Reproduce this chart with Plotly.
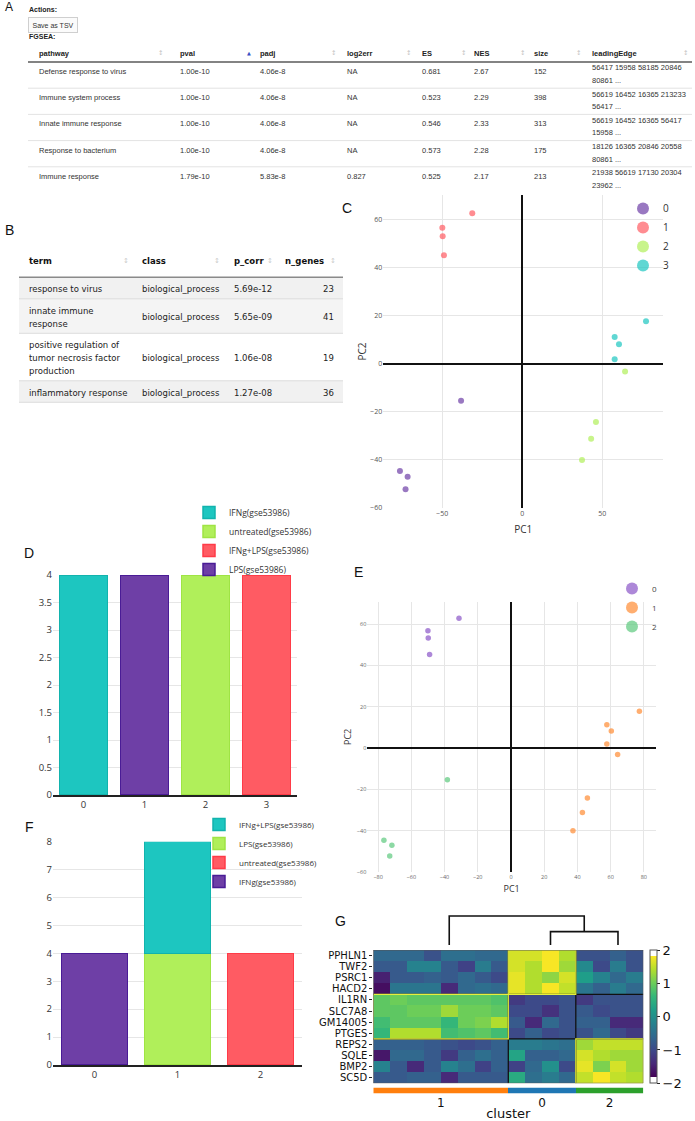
import plotly.graph_objects as go

W, H = 695, 1121


def fx(px):
    return px / W


def fy(py):
    return 1 - py / H


# ============================================================ DATA
# ---- A : FGSEA table
fgsea_header = ["pathway", "pval", "padj", "log2err", "ES", "NES", "size", "leadingEdge"]
fgsea_sorted = "pval"
fgsea_pathway = ["Defense response to virus", "Immune system process", "Innate immune response",
                 "Response to bacterium", "Immune response"]
fgsea_pval = ["1.00e-10", "1.00e-10", "1.00e-10", "1.00e-10", "1.79e-10"]
fgsea_padj = ["4.06e-8", "4.06e-8", "4.06e-8", "4.06e-8", "5.83e-8"]
fgsea_log2err = ["NA", "NA", "NA", "NA", "0.827"]
fgsea_es = ["0.681", "0.523", "0.546", "0.573", "0.525"]
fgsea_nes = ["2.67", "2.29", "2.33", "2.28", "2.17"]
fgsea_size = ["152", "398", "313", "175", "213"]
fgsea_leading_edge = ["56417 15958 58185 20846<br>80861 ...",
                      "56619 16452 16365 213233<br>56417 ...",
                      "56619 16452 16365 56417<br>15958 ...",
                      "18126 16365 20846 20558<br>80861 ...",
                      "21938 56619 17130 20304<br>23962 ..."]

# ---- B : GO enrichment table
go_header = ["term", "class", "p_corr", "n_genes"]
go_term = ["response to virus", "innate immune<br>response",
           "positive regulation of<br>tumor necrosis factor<br>production", "inflammatory response"]
go_class = ["biological_process", "biological_process", "biological_process", "biological_process"]
go_p_corr = ["5.69e-12", "5.65e-09", "1.06e-08", "1.27e-08"]
go_n_genes = [23, 41, 19, 36]

# ---- C / E : PCA coordinates of the 16 samples
pc1 = [-38.3, -76.5, -71.7, -73.0, -31.3, -50.0, -49.8, -49.0,
       46.0, 43.0, 37.3, 64.2, 77.3, 57.7, 60.4, 57.7]
pc2 = [-15.3, -44.6, -47.0, -52.2, 62.8, 56.8, 53.2, 45.3,
       -24.2, -31.2, -40.0, -3.1, 17.8, 11.2, 8.2, 2.0]
cluster_c = [0, 0, 0, 0, 1, 1, 1, 1, 2, 2, 2, 2, 3, 3, 3, 3]
cluster_e = [2, 2, 2, 2, 0, 0, 0, 0, 1, 1, 1, 1, 1, 1, 1, 1]

# ---- D : samples per cluster, coloured by condition
d_conditions = ["IFNg(gse53986)", "untreated(gse53986)", "IFNg+LPS(gse53986)", "LPS(gse53986)"]
d_clusters = [0, 2, 3, 1]
d_counts = [4, 4, 4, 4]

# ---- F : stacked samples per cluster (trace/stack order) + legend order
f_conditions = ["IFNg(gse53986)", "untreated(gse53986)", "LPS(gse53986)", "IFNg+LPS(gse53986)"]
f_clusters = [0, 2, 1, 1]
f_counts = [4, 4, 4, 4]
f_legend_order = ["IFNg+LPS(gse53986)", "LPS(gse53986)", "untreated(gse53986)", "IFNg(gse53986)"]

# ---- G : marker gene heatmap
genes = ["PPHLN1", "TWF2", "PSRC1", "HACD2", "IL1RN", "SLC7A8", "GM14005", "PTGES",
         "REPS2", "SQLE", "BMP2", "SC5D"]
gene_group_sizes = [4, 4, 4]
gene_group_cluster = [0, 1, 2]
cluster_order = [1, 0, 2]
cluster_sizes = [8, 4, 4]
heat_values = [
    [-0.6, -0.6, -0.6, -0.9, -0.5, -0.5, -0.6, -0.6, 1.6, 1.6, 1.8, 1.4, -0.9, -0.9, -0.7, -0.9],
    [-0.8, -0.8, -0.2, -0.2, -0.8, -1.1, -0.3, -0.8, 1.6, 1.4, 1.8, 1.3, -0.1, -1.0, -0.3, -0.9],
    [-1.5, -0.8, -0.8, -0.7, -0.8, -0.6, -0.8, -1.0, 1.7, 1.4, 1.2, 1.6, 0.2, -0.2, -0.6, -0.3],
    [-1.7, -0.4, -0.4, -0.4, -1.4, -0.6, -0.5, -0.6, 1.7, 1.4, 1.8, 1.5, -0.4, -0.7, -0.3, -0.6],
    [0.9, 1.0, 0.9, 0.9, 0.9, 0.9, 0.9, 0.8, -1.2, -1.0, -1.0, -0.9, -1.2, -0.9, -0.9, -0.9],
    [0.9, 0.9, 1.0, 1.0, 1.3, 1.0, 1.0, 0.9, -1.0, -1.0, -1.3, -0.9, -0.8, -1.0, -0.9, -0.9],
    [0.7, 0.9, 0.9, 0.9, 0.6, 1.0, 1.1, 1.4, -0.8, -1.4, -0.6, -0.9, -0.7, -0.7, -1.4, -1.4],
    [0.6, 1.4, 1.4, 1.4, 0.7, 0.8, 0.9, 0.7, -1.0, -0.7, -1.0, -0.9, -0.9, -0.6, -1.0, -1.2],
    [-0.7, -0.7, -0.7, -0.8, -0.9, -1.0, -0.9, -0.7, -0.3, -0.3, -0.4, -0.5, 1.3, 1.5, 1.5, 1.5],
    [-1.6, -0.6, -0.6, -0.8, -1.2, -0.7, -0.5, -0.7, 0.3, -0.7, -0.7, -0.6, 1.6, 1.4, 1.3, 1.3],
    [-0.2, -0.8, -1.4, -0.8, -0.2, -0.5, -1.1, -0.7, -1.1, -0.6, 0.0, -1.0, 1.7, 1.1, 1.6, 1.3],
    [-0.8, -0.8, -0.7, -0.7, -1.4, -0.8, -0.8, -0.8, 0.4, -0.5, -0.3, -0.6, 1.5, 1.8, 1.5, 1.4],
]
# dendrogram: clusters 0 and 2 merge first, then join cluster 1
dendro_merge_heights = [0.46, 1.0]

# ============================================================ STYLES
c_colors = ["#6e3fa6", "#ff5b63", "#b0ef5a", "#1dc6c0"]
e_colors = ["#8a56c8", "#ff8c33", "#5cc97e"]
bar_fill = ["#1dc6c0", "#b0ef5a", "#ff5b63", "#6e3fa6"]
bar_line = ["#12b3ad", "#9fe444", "#ff3b48", "#4a1c96"]
strip_colors = {0: "#1f77b4", 1: "#ff7f0e", 2: "#2ca02c"}
NARROW = "Liberation Sans Narrow, Arial Narrow, Liberation Sans, sans-serif"
VERD = "DejaVu Sans, Verdana, sans-serif"
GRID = "#e6e6e6"

fig = go.Figure()

# ---------------------------------------------------------------- C scatter
for k in sorted(set(cluster_c)):
    idx = [i for i, c in enumerate(cluster_c) if c == k]
    fig.add_trace(go.Scatter(
        x=[pc1[i] for i in idx], y=[pc2[i] for i in idx], mode="markers", name=str(k),
        marker=dict(size=6, color=c_colors[k], opacity=0.7, line=dict(width=0)),
        xaxis="x", yaxis="y", legend="legend"))

# ---------------------------------------------------------------- E scatter
for k in sorted(set(cluster_e)):
    idx = [i for i, c in enumerate(cluster_e) if c == k]
    fig.add_trace(go.Scatter(
        x=[pc1[i] for i in idx], y=[pc2[i] for i in idx], mode="markers", name=str(k),
        marker=dict(size=5.5, color=e_colors[k], opacity=0.7, line=dict(width=0)),
        xaxis="x2", yaxis="y2", legend="legend3"))

# ---------------------------------------------------------------- D bars
for i, cond in enumerate(d_conditions):
    fig.add_trace(go.Bar(
        x=[d_clusters[i]], y=[d_counts[i]], name=cond, legendrank=i + 1,
        marker=dict(color=bar_fill[i], line=dict(color=bar_line[i], width=1.5)),
        xaxis="x3", yaxis="y3", legend="legend2"))

# ---------------------------------------------------------------- F stacked bars
for i, cond in enumerate(f_conditions):
    li = f_legend_order.index(cond)
    fig.add_trace(go.Bar(
        x=[f_clusters[i]], y=[f_counts[i]], name=cond, legendrank=li + 1,
        marker=dict(color=bar_fill[li], line=dict(color=bar_line[li], width=1.5)),
        xaxis="x4", yaxis="y4", legend="legend4"))

# ---------------------------------------------------------------- G heatmap
viridis = ["#440154", "#482878", "#3e4989", "#31688e", "#26828e",
           "#1f9e89", "#35b779", "#6ece58", "#b5de2b", "#fde725"]
cap = 0.042
cscale = [[0, "white"], [cap, "white"]]
cscale += [[cap + (1 - 2 * cap) * i / (len(viridis) - 1), c] for i, c in enumerate(viridis)]
cscale += [[1 - cap, "white"], [1, "white"]]

n_cols = len(heat_values[0])
fig.add_trace(go.Heatmap(
    z=heat_values, x=list(range(n_cols)), y=list(range(len(genes))),
    colorscale=cscale, zmin=-2, zmax=2, xaxis="x5", yaxis="y5",
    colorbar=dict(x=fx(650), xanchor="left", y=fy(1016.7), yanchor="middle",
                  len=133.3 / H, lenmode="fraction", thickness=7, xpad=0, ypad=0,
                  outlinewidth=1, outlinecolor="#555",
                  tickvals=[-2, -1, 0, 1, 2], ticktext=["\u22122", "\u22121", "0", "1", "2"],
                  ticks="outside", ticklen=3, tickcolor="#222",
                  tickfont=dict(size=13, family=VERD, color="#111")),
    hoverinfo="skip"))

# column layout of the heatmap (cluster blocks)
block_start = []
acc = 0
for s in cluster_sizes:
    block_start.append(acc)
    acc += s
col_clusters = []
for cl, s in zip(cluster_order, cluster_sizes):
    col_clusters += [cl] * s
block_center = [st + s / 2 - 0.5 for st, s in zip(block_start, cluster_sizes)]
leaf_x = {cl: st + s / 2 for cl, st, s in zip(cluster_order, block_start, cluster_sizes)}

# dendrogram
h1, h2 = dendro_merge_heights
inner_mid = (leaf_x[0] + leaf_x[2]) / 2
dx = [leaf_x[1], leaf_x[1], inner_mid, inner_mid, None, leaf_x[0], leaf_x[0], leaf_x[2], leaf_x[2]]
dy = [0, h2, h2, h1, None, 0, h1, h1, 0]
fig.add_trace(go.Scatter(x=dx, y=dy, mode="lines", line=dict(color="#111", width=1.6),
                         showlegend=False, hoverinfo="skip", xaxis="x6", yaxis="y6"))

# cluster colour strip
sc = [[0, strip_colors[0]], [1 / 3, strip_colors[0]], [1 / 3, strip_colors[1]],
      [2 / 3, strip_colors[1]], [2 / 3, strip_colors[2]], [1, strip_colors[2]]]
fig.add_trace(go.Heatmap(z=[col_clusters], x=list(range(n_cols)), y=[0], colorscale=sc,
                         zmin=-0.5, zmax=2.5, showscale=False, hoverinfo="skip",
                         xaxis="x7", yaxis="y7"))

# ============================================================ SHAPES / ANNOTATIONS
shapes = []
ann = []


def hline(y, x0, x1, color, width):
    shapes.append(dict(type="line", xref="paper", yref="paper", x0=fx(x0), x1=fx(x1),
                       y0=fy(y), y1=fy(y), line=dict(color=color, width=width)))


def text(x, y, t, size, family, color="#333", anchor="left", bold=False):
    ann.append(dict(x=fx(x), y=fy(y), xref="paper", yref="paper", showarrow=False,
                    text=("<b>%s</b>" % t) if bold else t, xanchor=anchor, yanchor="middle",
                    font=dict(size=size, family=family, color=color)))


# ---- panel A
text(3, 7, "A", 12, "Liberation Sans, Arial", "#111")
text(27, 9, "Actions:", 7, NARROW, "#222", bold=True)
ann.append(dict(x=fx(53), y=fy(25), xref="paper", yref="paper", showarrow=False,
                text="Save as TSV", xanchor="center", yanchor="middle",
                font=dict(size=7, family=NARROW, color="#333"),
                bordercolor="#cfcfcf", borderwidth=1, borderpad=3.5, bgcolor="#fbfbfb"))
text(27, 37, "FGSEA:", 7, NARROW, "#222", bold=True)

A_TEXT_X = [37, 178, 258, 345, 420, 472, 532, 590]
A_ICON_X = [160, 249, 333, 408, 463, 522, 578, 685]
A_ROW_TOP, A_ROW_H = 62, 26.2
fgsea_cols = [fgsea_pathway, fgsea_pval, fgsea_padj, fgsea_log2err, fgsea_es,
              fgsea_nes, fgsea_size, fgsea_leading_edge]
for c, name in enumerate(fgsea_header):
    text(A_TEXT_X[c], 53, name, 7.5, NARROW, "#222", bold=True)
    if name == fgsea_sorted:
        text(A_ICON_X[c], 53, "\u25b2", 5, VERD, "#3b4fc4", anchor="center")
    else:
        text(A_ICON_X[c], 53, "\u2195", 6.5, VERD, "#c4c4c4", anchor="center")
    for r, val in enumerate(fgsea_cols[c]):
        top = A_ROW_TOP + r * A_ROW_H
        lines = val.split("<br>")
        if len(lines) == 1:
            text(A_TEXT_X[c], top + 9.5, lines[0], 7.5, NARROW, "#333")
        else:
            for k, ln in enumerate(lines):
                text(A_TEXT_X[c], top + 6 + 12.5 * k, ln, 7.5, NARROW, "#333")
hline(A_ROW_TOP, 28, 692, "#5a5a5a", 1.6)
for r in range(1, len(fgsea_pathway)):
    hline(A_ROW_TOP + r * A_ROW_H, 28, 692, "#e3e3e3", 1)

# ---- panel B
text(3, 230, "B", 14, "Liberation Sans, Arial", "#111")
B_TEXT_X = [27, 140, 232, 336]
B_ALIGN = ["left", "left", "left", "right"]
B_ICON_X = [126, 217, 270, 333]
B_LEFT, B_RIGHT = 19, 343
B_HEAD_Y, B_ROW_TOP, B_LINE_H = 260.5, 277.3, 13
B_FILL = ["#f1f1f1", "#f4f4f4", "#ffffff", "#f1f1f1"]
go_cols = [go_term, go_class, go_p_corr, [str(v) for v in go_n_genes]]
row_lines = [max(len(str(col[r]).split("<br>")) for col in go_cols) for r in range(len(go_term))]
tops = []
y = B_ROW_TOP
for n in row_lines:
    tops.append((y, y + 8.5 + B_LINE_H * n))
    y += 8.5 + B_LINE_H * n
for r, (t0, t1) in enumerate(tops):
    shapes.append(dict(type="rect", xref="paper", yref="paper", x0=fx(B_LEFT), x1=fx(B_RIGHT),
                       y0=fy(t1), y1=fy(t0), fillcolor=B_FILL[r], line=dict(width=0), layer="below"))
    hline(t1, B_LEFT, B_RIGHT, "#dcdcdc", 1)
hline(B_ROW_TOP, B_LEFT, B_RIGHT, "#8a8a8a", 1.6)
for c, name in enumerate(go_header):
    text(B_TEXT_X[c] if B_ALIGN[c] == "left" else 283, B_HEAD_Y, name, 8.5, VERD, "#111", bold=True)
    text(B_ICON_X[c], B_HEAD_Y, "\u2195", 7, VERD, "#cccccc", anchor="center")
    for r, val in enumerate(go_cols[c]):
        t0, t1 = tops[r]
        mid = (t0 + t1) / 2 + 1
        lines = str(val).split("<br>")
        for k, ln in enumerate(lines):
            text(B_TEXT_X[c], mid + B_LINE_H * (k - (len(lines) - 1) / 2), ln, 8.5, VERD, "#222",
                 anchor=B_ALIGN[c])

# ---- panel letters for plots
text(340, 208, "C", 14, "Liberation Sans, Arial", "#111")
text(22, 553, "D", 14, "Liberation Sans, Arial", "#111")
text(352, 572, "E", 14, "Liberation Sans, Arial", "#111")
text(23, 827, "F", 14, "Liberation Sans, Arial", "#111")
text(333, 921, "G", 14, "Liberation Sans, Arial", "#111")

# ---- heatmap block lines
gstart = []
acc = 0
for s in gene_group_sizes:
    gstart.append(acc)
    acc += s
for st in block_start[1:]:
    shapes.append(dict(type="line", xref="x5", yref="y5", x0=st - 0.5, x1=st - 0.5,
                       y0=-0.5, y1=len(genes) - 0.5, line=dict(color="#111", width=1.3)))
for st in gstart[1:]:
    shapes.append(dict(type="line", xref="x5", yref="y5", x0=-0.5, x1=n_cols - 0.5,
                       y0=st - 0.5, y1=st - 0.5, line=dict(color="#111", width=1.3)))
for g, cl in enumerate(gene_group_cluster):
    b = cluster_order.index(cl)
    shapes.append(dict(type="rect", xref="x5", yref="y5",
                       x0=block_start[b] - 0.5, x1=block_start[b] + cluster_sizes[b] - 0.5,
                       y0=gstart[g] - 0.5, y1=gstart[g] + gene_group_sizes[g] - 0.5,
                       line=dict(color="#e6f03c", width=1.2)))
shapes.append(dict(type="rect", xref="x5", yref="y5", x0=-0.5, x1=n_cols - 0.5,
                   y0=-0.5, y1=len(genes) - 0.5, line=dict(color="#555", width=1)))

# ============================================================ LAYOUT
tick_small = dict(size=7, color="#555")
heat_x_dom = [fx(373.3), fx(643.3)]
fig.update_layout(
    width=W, height=H, margin=dict(l=0, r=0, t=0, b=0), template="none",
    paper_bgcolor="white", plot_bgcolor="white", barmode="stack", bargap=0.21,
    font=dict(family="Open Sans, sans-serif", color="#444"),
    shapes=shapes, annotations=ann,
    # C
    xaxis=dict(domain=[fx(383.3), fx(663.3)], range=[-86.9, 88.1], tick0=0, dtick=50, anchor="y",
               showgrid=True, gridcolor=GRID, zeroline=True, zerolinecolor="#111", zerolinewidth=2,
               showline=False, ticks="", tickfont=tick_small,
               title=dict(text="PC1", font=dict(size=10, color="#333"), standoff=8)),
    yaxis=dict(domain=[fy(508), fy(195)], range=[-60, 70.4], tick0=0, dtick=20, anchor="x",
               showgrid=True, gridcolor=GRID, zeroline=True, zerolinecolor="#111", zerolinewidth=2,
               showline=False, ticks="", tickfont=tick_small,
               title=dict(text="PC2", font=dict(size=10, color="#333"), standoff=1)),
    # E
    xaxis2=dict(domain=[fx(367.3), fx(656)], range=[-86.5, 87.3], tick0=0, dtick=20, anchor="y2",
                showgrid=True, gridcolor=GRID, zeroline=True, zerolinecolor="#111", zerolinewidth=2,
                ticks="", tickfont=dict(size=5.5, color="#666"),
                title=dict(text="PC1", font=dict(size=9, color="#333"), standoff=6)),
    yaxis2=dict(domain=[fy(872), fy(601.7)], range=[-60, 70.8], tick0=0, dtick=20, anchor="x2",
                showgrid=True, gridcolor=GRID, zeroline=True, zerolinecolor="#111", zerolinewidth=2,
                ticks="", tickfont=dict(size=5.5, color="#666"),
                title=dict(text="PC2", font=dict(size=9, color="#333"), standoff=3)),
    # D
    xaxis3=dict(domain=[fx(53), fx(297)], range=[-0.5, 3.5], tickvals=[0, 1, 2, 3], anchor="y3",
                showgrid=False, zeroline=False, showline=True, linecolor="#222", linewidth=1.5,
                ticks="", tickfont=dict(size=9.5, color="#333")),
    yaxis3=dict(domain=[fy(795), fy(575)], range=[0, 4], dtick=0.5, anchor="x3",
                showgrid=True, gridcolor=GRID, zeroline=False, ticks="",
                tickfont=dict(size=9.5, color="#333")),
    # F
    xaxis4=dict(domain=[fx(53), fx(302)], range=[-0.5, 2.5], tickvals=[0, 1, 2], anchor="y4",
                showgrid=False, zeroline=False, showline=True, linecolor="#222", linewidth=1.5,
                ticks="", tickfont=dict(size=9.5, color="#333")),
    yaxis4=dict(domain=[fy(1065), fy(841.7)], range=[0, 8], dtick=1, anchor="x4",
                showgrid=True, gridcolor=GRID, zeroline=False, ticks="",
                tickfont=dict(size=9.5, color="#333")),
    # G heatmap
    xaxis5=dict(domain=heat_x_dom, range=[-0.5, n_cols - 0.5], anchor="y5", showgrid=False,
                zeroline=False, showticklabels=False, ticks=""),
    yaxis5=dict(domain=[fy(1083.3), fy(950)], range=[len(genes) - 0.5, -0.5], anchor="x5",
                tickvals=list(range(len(genes))), ticktext=genes, showgrid=False, zeroline=False,
                ticks="outside", ticklen=3, tickcolor="#222",
                tickfont=dict(size=10, family=VERD, color="#111")),
    # dendrogram
    xaxis6=dict(domain=heat_x_dom, range=[-0.5, n_cols - 0.5], anchor="y6", visible=False),
    yaxis6=dict(domain=[fy(946), fy(912)], range=[-1 / 29, 1 + 4 / 29], anchor="x6", visible=False),
    # cluster strip
    xaxis7=dict(domain=heat_x_dom, range=[-0.5, n_cols - 0.5], anchor="y7", showgrid=False,
                zeroline=False, tickvals=block_center, ticktext=[str(c) for c in cluster_order],
                ticks="", tickfont=dict(size=12, family=VERD, color="#111"),
                title=dict(text="cluster", font=dict(size=13, family=VERD, color="#111"), standoff=2)),
    yaxis7=dict(domain=[fy(1093.5), fy(1087.5)], range=[-0.5, 0.5], anchor="x7", visible=False),
    # legends
    legend=dict(x=fx(623), y=fy(194), xanchor="left", yanchor="top", font=dict(size=10, color="#333"),
                itemsizing="constant", traceorder="normal", bgcolor="rgba(0,0,0,0)"),
    legend2=dict(x=fx(189), y=fy(498), xanchor="left", yanchor="top", font=dict(size=8.5, color="#333"),
                 traceorder="normal", bgcolor="rgba(255,255,255,0)"),
    legend3=dict(x=fx(612), y=fy(574), xanchor="left", yanchor="top", font=dict(size=8, color="#444"),
                 itemsizing="constant", traceorder="normal", bgcolor="rgba(0,0,0,0)"),
    legend4=dict(x=fx(199), y=fy(810), xanchor="left", yanchor="top", font=dict(size=8, color="#333"),
                 traceorder="normal", bgcolor="rgba(255,255,255,0)"),
)

fig.write_html("out.html", config={"displayModeBar": False})
